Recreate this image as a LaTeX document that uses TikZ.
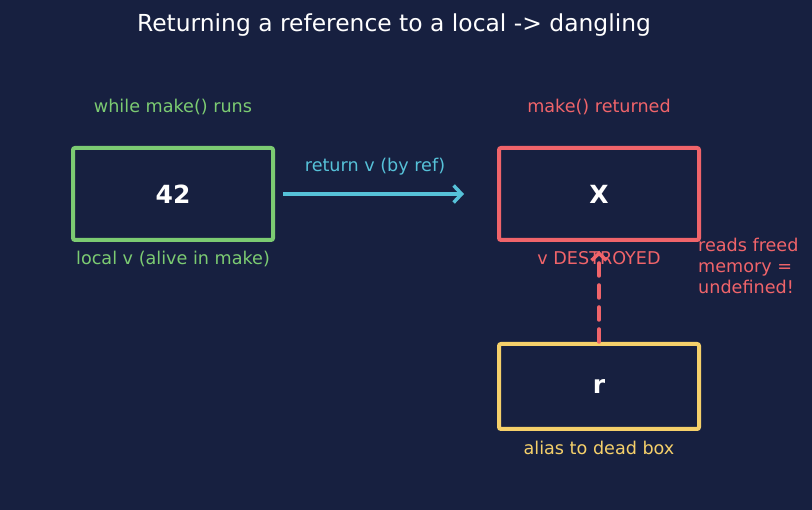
\documentclass[tikz,border=0pt]{standalone}
\usepackage{fontspec}
\setmainfont{DejaVu Sans}
\usetikzlibrary{arrows.meta}
\definecolor{bg}{HTML}{172040}
\definecolor{cgreen}{HTML}{7CCB72}
\definecolor{cred}{HTML}{F0646A}
\definecolor{ccyan}{HTML}{56C1D8}
\definecolor{cyellow}{HTML}{F5D06A}
\tikzset{
  box/.style={draw, line width=4pt, rounded corners=2pt, minimum width=200pt, inner sep=0pt, fill=bg},
  val/.style={text=white, font=\fontsize{25}{30}\selectfont\bfseries},
  lbl/.style={font=\fontsize{17.6}{21}\selectfont, inner sep=0pt},
  tip/.style={-{Straight Barb[length=8pt,width=17pt,line width=3.5pt]}},
}
\begin{document}
\begin{tikzpicture}[x=1pt,y=-1pt]
\fill[bg] (0,0) rectangle (812,510);
\useasboundingbox (0,0) rectangle (812,510);
\node[text=white, font=\fontsize{23.4}{28}\selectfont] (title) at (394,25) {Returning a reference to a local -> dangling};

\node[box, draw=cgreen, minimum height=92pt] (loc) at (173,194) {};
\node[val] at (loc) {42};
\node[lbl, text=cgreen] (lt) at (173,106.5) {while make() runs};
\node[lbl, text=cgreen] (lb) at (173,258.5) {local v (alive in make)};

\node[box, draw=cred, minimum height=92pt] (dead) at (599,194) {};
\node[val] at (dead) {X};
\node[lbl, text=cred] (rt) at (599,106.5) {make() returned};

\node[box, draw=cyellow, minimum height=85pt] (alias) at (599,386.5) {};
\node[val] at (alias) {r};
\node[lbl, text=cyellow] (ab) at (599,447.5) {alias to dead box};

\coordinate (a1) at (283,194);
\coordinate (a2) at (464,194);
\draw[ccyan, line width=3.5pt, tip] (a1) -- (a2);
\node[lbl, text=ccyan] (rl) at (375,166.5) {return v (by ref)};

\coordinate (d2) at (599,251);
\draw[cred, line width=3.5pt, line cap=round, dash pattern=on 13pt off 9pt, -{Straight Barb[length=7pt,width=15pt,line width=3.5pt]}] (alias.north) -- (d2);
\node[lbl, text=cred] (rb) at (599,258.5) {v DESTROYED};
\node[lbl, text=cred, anchor=north west, align=left] (note) at (698,238) {reads freed\\memory =\\undefined!};
\end{tikzpicture}
\end{document}
